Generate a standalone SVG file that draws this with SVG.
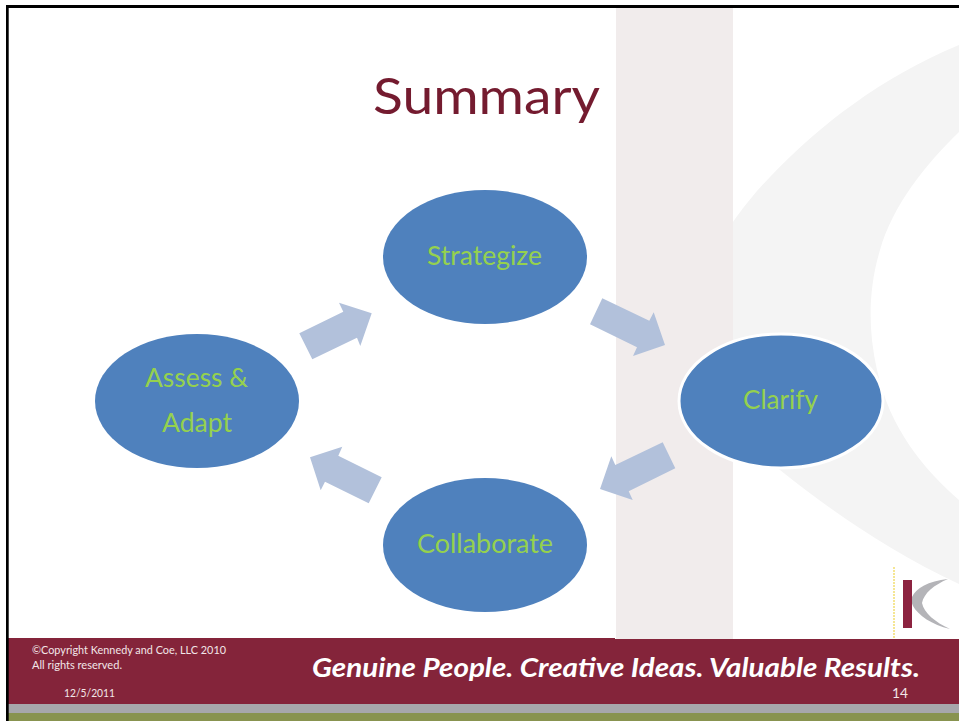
<svg xmlns="http://www.w3.org/2000/svg" width="959" height="721" viewBox="0 0 959 721">
<style>
text{font-family:"Lato","Liberation Sans",sans-serif}
.node{fill:#4F81BD}
.lbl{font-size:26.5px;fill:#95D14E}
.arrow{fill:#B2C1DB}
.small{font-size:11.5px;fill:#F2E6E8}
</style>
<rect width="959" height="721" fill="#fff"/>
<path id="swoosh" d="M959 45C880 78 820 125 770 177C735 213 700 265 690 320C680 380 730 430 780 470C830 510 890 552 959 584V500C925 470 890 430 877 370C868 330 868 290 880 250C893 205 925 165 959 132Z" fill="#F4F4F4"/>
<rect id="band" x="616" y="8" width="117" height="631" fill="#F1ECEC"/>
<g id="footer">
<rect x="8" y="638" width="607" height="66" fill="#84243A"/>
<rect x="615" y="639" width="344" height="65" fill="#84243A"/>
<rect x="8" y="704" width="951" height="9" fill="#A7A7AB"/>
<rect x="8" y="713" width="951" height="8" fill="#88934F"/>
</g>
<g id="frame" fill="#000">
<rect x="6" y="5" width="953" height="3"/>
<rect x="6" y="5" width="2.7" height="716"/>
</g>
<g id="logo">
<line x1="894" y1="567" x2="894" y2="638" stroke="#F2DE70" stroke-width="1.5" stroke-dasharray="2 1"/>
<path d="M948 579C928 581 916 588 912 597C911 601 912 604 913 606C918 615 932 625 950 629C935 622 924 613 922 603C924 593 934 585 948 579Z" fill="#B4B4B8"/>
<rect x="903" y="580" width="9" height="48" fill="#8C2340"/>
</g>
<text id="title" x="373" y="114" font-size="51" fill="#741B2F" textLength="227" lengthAdjust="spacingAndGlyphs">Summary</text>
<g id="connectors">
<polygon class="arrow" points="299.3,333.3 312.3,359.3 357,337.7 360.3,346 371.7,313.3 339,302.7 343.3,311.7"/>
<polygon class="arrow" points="602.3,298.3 590,324.3 637,347.3 633,356 665,345 653.7,312.3 649.3,320.7"/>
<polygon class="arrow" points="662.7,442.3 675.3,468.3 628.7,491.3 632.7,500 600,489 611.3,456.3 615.3,465"/>
<polygon class="arrow" points="381.7,477.3 368.7,503.3 325,481.7 320.7,490.3 310,457.3 342.3,446.7 338.3,455.7"/>
</g>
<g id="strategize"><ellipse class="node" cx="485" cy="257" rx="102" ry="67"/><text class="lbl" x="427" y="265" textLength="115" lengthAdjust="spacingAndGlyphs">Strategize</text></g>
<g id="clarify"><ellipse class="node" cx="781" cy="401" rx="102" ry="67" stroke="#fff" stroke-width="3"/><text class="lbl" x="743" y="409" textLength="75" lengthAdjust="spacingAndGlyphs">Clarify</text></g>
<g id="collaborate"><ellipse class="node" cx="485" cy="545" rx="102" ry="67"/><text class="lbl" x="417" y="553" textLength="136" lengthAdjust="spacingAndGlyphs">Collaborate</text></g>
<g id="assess"><ellipse class="node" cx="197" cy="401" rx="102" ry="67"/><text class="lbl" x="145" y="387" textLength="103" lengthAdjust="spacingAndGlyphs">Assess &amp;</text><text class="lbl" x="162" y="432" textLength="70" lengthAdjust="spacingAndGlyphs">Adapt</text></g>
<g id="footer-text">
<text class="small" x="32" y="654" textLength="194" lengthAdjust="spacingAndGlyphs">©Copyright Kennedy and Coe, LLC 2010</text>
<text class="small" x="32" y="669" textLength="90" lengthAdjust="spacingAndGlyphs">All rights reserved.</text>
<text class="small" x="64" y="697" textLength="51" lengthAdjust="spacingAndGlyphs">12/5/2011</text>
<text x="312" y="677" font-size="27" font-weight="700" font-style="italic" fill="#fff" textLength="608" lengthAdjust="spacingAndGlyphs">Genuine People. Creative Ideas. Valuable Results.</text>
<text x="892" y="698" font-size="13.5" fill="#F2E6E8" textLength="16" lengthAdjust="spacingAndGlyphs">14</text>
</g>
</svg>
